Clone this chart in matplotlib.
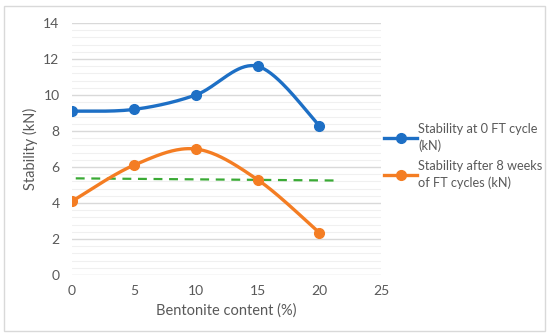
import numpy as np
import matplotlib.pyplot as plt
from matplotlib.patches import Rectangle

bentonite = [0, 5, 10, 15, 20]
stab_0ft = [9.1, 9.2, 10.0, 11.6, 8.3]
stab_8wk = [4.1, 6.1, 7.0, 5.3, 2.35]
trend_x = [0.3, 21.4]
trend_y = [5.37, 5.25]

labels = ["Stability at 0 FT cycle\n(kN)", "Stability after 8 weeks\nof FT cycles (kN)"]


def smooth(x, y, n=40):
    # excel-like smoothed line (cardinal bezier)
    x = np.asarray(x, float)
    y = np.asarray(y, float)
    px, py = [], []
    for i in range(len(x) - 1):
        x0, y0 = (x[i - 1], y[i - 1]) if i > 0 else (x[i], y[i])
        x3, y3 = (x[i + 2], y[i + 2]) if i + 2 < len(x) else (x[i + 1], y[i + 1])
        c1x = x[i] + (x[i + 1] - x0) / 6
        c1y = y[i] + (y[i + 1] - y0) / 6
        c2x = x[i + 1] - (x3 - x[i]) / 6
        c2y = y[i + 1] - (y3 - y[i]) / 6
        t = np.linspace(0, 1, n)
        bx = (1 - t)**3 * x[i] + 3 * (1 - t)**2 * t * c1x + 3 * (1 - t) * t**2 * c2x + t**3 * x[i + 1]
        by = (1 - t)**3 * y[i] + 3 * (1 - t)**2 * t * c1y + 3 * (1 - t) * t**2 * c2y + t**3 * y[i + 1]
        px.extend(bx)
        py.extend(by)
    return px, py


plt.rcParams['font.family'] = ['Lato', 'DejaVu Sans']
grey = '#595959'

fig = plt.figure(figsize=(5.5, 3.36), dpi=100)
fig.patches.append(Rectangle((4 / 550, 5 / 336), 541 / 550, 325 / 336, transform=fig.transFigure,
                             fill=False, edgecolor='#d9d9d9', linewidth=1))
ax = fig.add_axes([0.131, 0.1815, 0.562, 0.75])

blue = '#1d6fc5'
orange = '#f47d23'
green = '#3aaa35'

sx, sy = smooth(bentonite, stab_0ft)
ax.plot(sx, sy, color=blue, lw=2.4, solid_capstyle='round', zorder=3)
ax.plot(bentonite, stab_0ft, 'o', color=blue, ms=7, zorder=4)
sx, sy = smooth(bentonite, stab_8wk)
ax.plot(sx, sy, color=orange, lw=2.4, solid_capstyle='round', zorder=3)
ax.plot(bentonite, stab_8wk, 'o', color=orange, ms=7, zorder=4)
ax.plot(trend_x, trend_y, '--', color=green, lw=1.6, dashes=(4, 3), zorder=2)

ax.set_xlim(0, 25)
ax.set_ylim(0, 14)
ax.set_xticks(range(0, 26, 5))
ax.set_yticks(range(0, 15, 2))
ax.set_yticks(np.arange(0, 14.01, 0.4), minor=True)
ax.grid(axis='y', which='major', color='#d9d9d9', lw=1)
ax.grid(axis='y', which='minor', color='#f0f0f0', lw=0.8)
ax.set_axisbelow(True)
for s in ax.spines.values():
    s.set_visible(False)
ax.tick_params(which='both', length=0, labelsize=10, colors=grey, pad=7)
ax.tick_params(axis='y', pad=9)
ax.set_xlabel('Bentonite content (%)', color=grey, fontsize=10.5, labelpad=5)
ax.set_ylabel('Stability (kN)', color=grey, fontsize=10.5, labelpad=4)

handles = [plt.Line2D([], [], color=blue, lw=2.4, marker='o', ms=7),
           plt.Line2D([], [], color=orange, lw=2.4, marker='o', ms=7)]
leg = fig.legend(handles, labels, loc='upper left', bbox_to_anchor=(0.698, 0.635), frameon=False,
                 fontsize=9.2, labelcolor=grey, handlelength=2.6, handletextpad=0.1,
                 labelspacing=0.6, borderaxespad=0, borderpad=0)
for t in leg.get_texts():
    t.set_linespacing(1.45)

fig.savefig('out.png', dpi=100)
